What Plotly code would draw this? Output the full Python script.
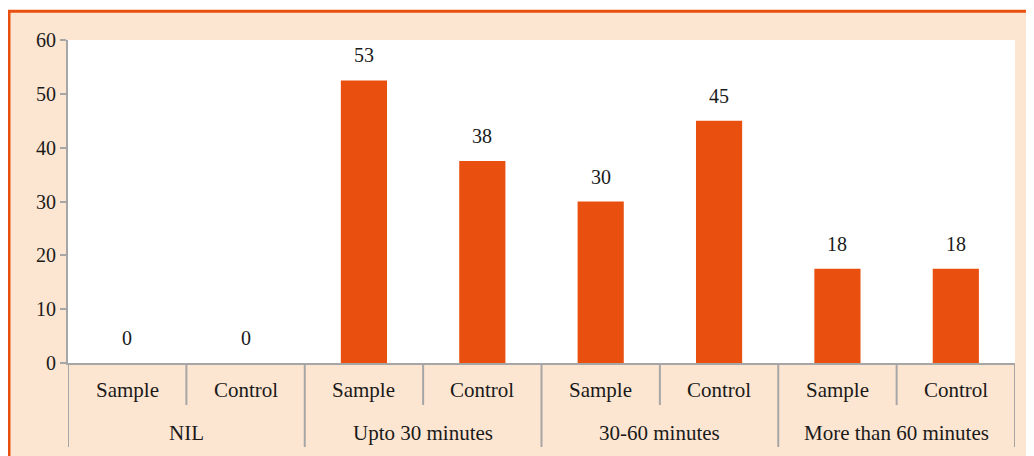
import math
import plotly.graph_objects as go

groups = ["NIL", "NIL", "Upto 30 minutes", "Upto 30 minutes",
          "30-60 minutes", "30-60 minutes", "More than 60 minutes", "More than 60 minutes"]
subgroups = ["Sample", "Control", "Sample", "Control", "Sample", "Control", "Sample", "Control"]
values = [0, 0, 52.5, 37.5, 30, 45, 17.5, 17.5]
labels = [str(int(math.floor(v + 0.5))) for v in values]

OFF = 8  # page body margin
W, H = 1034, 456
# plot area in page pixels: x 68..1015, y 40..363
ML, MT = 68 - OFF, 40 - OFF
MR = W - (1015 - OFF)
MB = H - (363 - OFF)
PW, PH = W - ML - MR, H - MT - MB

def px_x(p):  # page pixel -> paper x
    return (p - OFF - ML) / PW

def px_y(p):  # page pixel -> paper y
    return 1 - (p - OFF - MT) / PH

PEACH = "#FDE6D1"
ORANGE = "#E94F0F"
AXIS = "#A6A6A6"
FONT = "Liberation Serif"
TXT = "#1a1a1a"

pos = list(range(len(values)))

fig = go.Figure()
fig.add_trace(go.Bar(
    x=pos, y=values,
    marker=dict(color=ORANGE, line=dict(width=0)),
    hoverinfo="skip",
))

# data labels
for p, v, t in zip(pos, values, labels):
    fig.add_annotation(x=p, y=v, text=t, showarrow=False,
                       yanchor="middle", yshift=25,
                       font=dict(family=FONT, size=20, color=TXT))

# inner category labels
for p, s in zip(pos, subgroups):
    fig.add_annotation(x=p, xref="x", y=px_y(390), yref="paper", text=s,
                       showarrow=False, yanchor="middle",
                       font=dict(family=FONT, size=21, color=TXT))

# outer group labels
group_order = []
for g in groups:
    if g not in group_order:
        group_order.append(g)
for g in group_order:
    idx = [p for p, gg in zip(pos, groups) if gg == g]
    fig.add_annotation(x=(idx[0] + idx[-1]) / 2, xref="x", y=px_y(433), yref="paper",
                       text=g, showarrow=False, yanchor="middle",
                       font=dict(family=FONT, size=21, color=TXT))

# tick / divider lines at category boundaries
for b in range(len(pos) + 1):
    full = b == 0 or b == len(pos) or groups[b - 1] != groups[b]
    fig.add_shape(type="line", xref="x", yref="paper",
                  x0=b - 0.5, x1=b - 0.5, y0=0, y1=px_y(447 if full else 405),
                  line=dict(color=AXIS, width=2))

# white top strip and orange frame
fig.add_shape(type="rect", xref="paper", yref="paper", layer="above",
              x0=px_x(-20), x1=px_x(1080), y0=px_y(10), y1=px_y(-20),
              fillcolor="white", line=dict(width=0))
fig.add_shape(type="line", xref="paper", yref="paper", layer="above",
              x0=px_x(7.5), x1=px_x(1080), y0=px_y(11.3), y1=px_y(11.3),
              line=dict(color=ORANGE, width=3))
fig.add_shape(type="line", xref="paper", yref="paper", layer="above",
              x0=px_x(9), x1=px_x(9), y0=px_y(10), y1=px_y(500),
              line=dict(color=ORANGE, width=3))

fig.update_layout(
    width=W, height=H,
    margin=dict(l=ML, r=MR, t=MT, b=MB, autoexpand=False),
    paper_bgcolor=PEACH, plot_bgcolor="white",
    bargap=0.61, showlegend=False,
    font=dict(family=FONT, size=20, color=TXT),
)
fig.update_yaxes(range=[0, 60], dtick=10, showgrid=False, zeroline=False,
                 showline=True, linecolor=AXIS, linewidth=2, automargin=False,
                 ticks="outside", tickcolor=AXIS, ticklen=6, tickwidth=2,
                 tickfont=dict(family=FONT, size=20, color=TXT))
fig.update_xaxes(range=[-0.5, len(pos) - 0.5], showgrid=False, zeroline=False,
                 showline=True, linecolor=AXIS, linewidth=2, automargin=False,
                 showticklabels=False, ticks="")

fig.write_html("out.html")
